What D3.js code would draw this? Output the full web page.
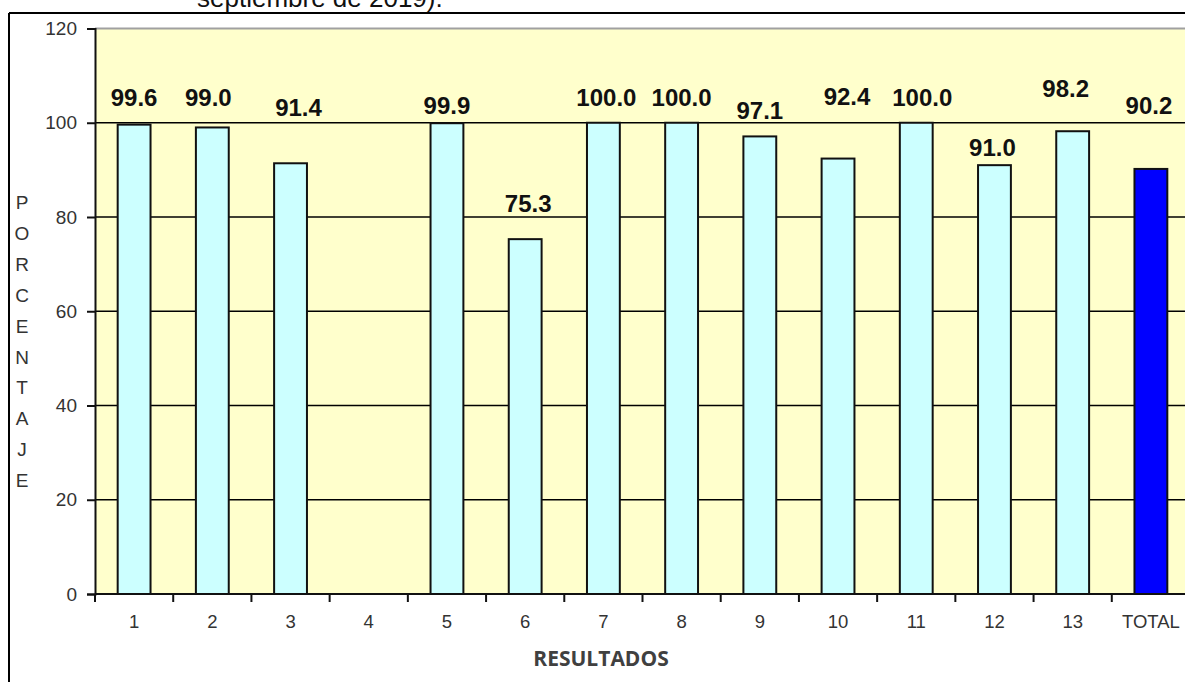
<!DOCTYPE html>
<html>
<head>
<meta charset="utf-8">
<script src="https://cdn.jsdelivr.net/npm/d3@7"></script>
<style>
  body { margin: 0; background: #fff; }
  svg { display: block; font-family: Arial, "Liberation Sans", sans-serif; }
</style>
</head>
<body>
<div id="chart"></div>
<script>
// categories + values (4 has no bar)
const categories = ['1', '2', '3', '4', '5', '6', '7', '8', '9', '10', '11', '12', '13', 'TOTAL'];
const values = [99.6, 99.0, 91.4, null, 99.9, 75.3, 100.0, 100.0, 97.1, 92.4, 100.0, 91.0, 98.2, 90.2];
const yTicks = [0, 20, 40, 60, 80, 100, 120];
const yLabel = 'PORCENTAJE';
const xLabel = 'RESULTADOS';
const titleTail = 'septiembre de 2019).';

// label placement in the original is hand-nudged, so keep those nudges apart from the data
const labelLift = [19, 21, 47, 0, 9, 27, 17, 17, 17, 54, 17, 9, 34, 55];
const labelShift = [0, -4, 8, 0, 0, 3, 3, 0, 0, 9, 6, -2, -7, -2];

const W = 1185, H = 682;
const plot = { left: 95, right: 1190, top: 28.5, bottom: 594 };

const svg = d3.select('#chart').append('svg')
    .attr('width', W)
    .attr('height', H);

// cut-off title line above the frame
svg.append('text')
    .attr('x', 197)
    .attr('y', 7)
    .attr('font-size', 26)
    .attr('fill', '#111')
    .text(titleTail);

// outer frame (only top and left visible)
svg.append('line').attr('x1', 9).attr('x2', W).attr('y1', 13).attr('y2', 13)
    .attr('stroke', '#000').attr('stroke-width', 2);
svg.append('line').attr('x1', 9).attr('x2', 9).attr('y1', 13).attr('y2', H)
    .attr('stroke', '#000').attr('stroke-width', 2);

const x = d3.scaleBand()
    .domain(categories)
    .range([plot.left, plot.right])
    .padding(0);

const y = d3.scaleLinear()
    .domain([0, 120])
    .range([plot.bottom, plot.top]);

const barW = x.bandwidth() * 0.42;

// plot background
svg.append('rect')
    .attr('x', plot.left)
    .attr('y', y(120))
    .attr('width', plot.right - plot.left)
    .attr('height', y(0) - y(120))
    .attr('fill', '#FFFFCC');

// gridlines
svg.append('g').selectAll('line')
    .data(yTicks.filter(t => t > 0))
    .join('line')
    .attr('x1', plot.left)
    .attr('x2', plot.right)
    .attr('y1', d => y(d))
    .attr('y2', d => y(d))
    .attr('stroke', d => d === 120 ? '#a0a0a0' : '#000')
    .attr('stroke-width', d => d === 120 ? 2 : 1.5);

// bars
const data = categories.map((c, i) => ({ cat: c, value: values[i], i }));

svg.append('g').selectAll('rect')
    .data(data.filter(d => d.value != null))
    .join('rect')
    .attr('x', d => x(d.cat) + (x.bandwidth() - barW) / 2)
    .attr('y', d => y(d.value))
    .attr('width', barW)
    .attr('height', d => y(0) - y(d.value))
    .attr('fill', d => d.cat === 'TOTAL' ? '#0000FF' : '#CCFFFF')
    .attr('stroke', '#111')
    .attr('stroke-width', 2);

// value labels
svg.append('g').selectAll('text')
    .data(data.filter(d => d.value != null))
    .join('text')
    .attr('x', d => x(d.cat) + x.bandwidth() / 2 + labelShift[d.i])
    .attr('y', d => y(d.value) - labelLift[d.i])
    .attr('text-anchor', 'middle')
    .attr('font-size', 24)
    .attr('font-weight', 'bold')
    .attr('fill', '#111')
    .text(d => d.value.toFixed(1));

// y axis
const yAxis = svg.append('g')
    .attr('transform', `translate(${plot.left},0)`)
    .call(d3.axisLeft(y).tickValues(yTicks).tickSize(8).tickPadding(10));
yAxis.select('.domain').attr('stroke', '#111').attr('stroke-width', 2);
yAxis.selectAll('.tick line').attr('stroke', '#111').attr('stroke-width', 2);
yAxis.selectAll('.tick text')
    .attr('font-size', 19)
    .attr('font-family', 'Arial, "Liberation Sans", sans-serif')
    .attr('fill', '#333');

// x axis: ticks sit on the band boundaries
svg.append('line')
    .attr('x1', plot.left).attr('x2', plot.right)
    .attr('y1', y(0)).attr('y2', y(0))
    .attr('stroke', '#111').attr('stroke-width', 2);

svg.append('g').selectAll('line')
    .data(categories)
    .join('line')
    .attr('x1', d => x(d))
    .attr('x2', d => x(d))
    .attr('y1', y(0))
    .attr('y2', y(0) + 8)
    .attr('stroke', '#111')
    .attr('stroke-width', 2);

svg.append('g').selectAll('text')
    .data(categories)
    .join('text')
    .attr('x', d => x(d) + x.bandwidth() / 2)
    .attr('y', y(0) + 34)
    .attr('text-anchor', 'middle')
    .attr('font-size', 18.5)
    .attr('fill', '#333')
    .text(d => d);

// axis titles
svg.append('text')
    .attr('x', 601)
    .attr('y', 666)
    .attr('text-anchor', 'middle')
    .attr('font-family', '"Open Sans", sans-serif')
    .attr('font-size', 21)
    .attr('font-weight', 'bold')
    .attr('fill', '#404040')
    .text(xLabel);

svg.append('g').selectAll('text')
    .data(yLabel.split(''))
    .join('text')
    .attr('x', 22)
    .attr('y', (d, i) => 209 + i * 30.9)
    .attr('text-anchor', 'middle')
    .attr('font-size', 19)
    .attr('fill', '#333')
    .text(d => d);
</script>
</body>
</html>
